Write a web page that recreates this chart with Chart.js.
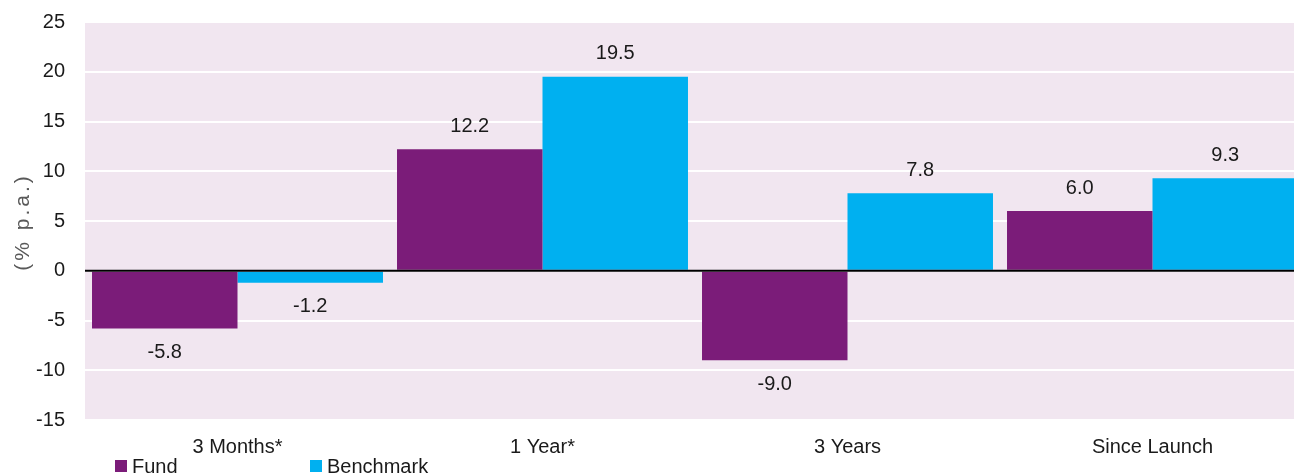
<!DOCTYPE html>
<html>
<head>
<meta charset="utf-8">
<script src="https://cdn.jsdelivr.net/npm/chart.js@4"></script>
<style>
  html, body { margin: 0; padding: 0; background: #fff; overflow: hidden; }
  #wrap { width: 1310px; height: 475px; }
</style>
</head>
<body>
<div id="wrap"><canvas id="perf-chart"></canvas></div>
<script>
const categories = ['3 Months*', '1 Year*', '3 Years', 'Since Launch'];
const fundValues = [-5.8, 12.2, -9.0, 6.0];
const benchmarkValues = [-1.2, 19.5, 7.8, 9.3];
const yTicks = [-15, -10, -5, 0, 5, 10, 15, 20, 25];
const yTitle = '(% p.a.)';

const FONT = 'Liberation Sans, Arial, Helvetica, sans-serif';
const purple = '#7b1c79';
const cyan = '#00b0f0';

// plot background + zero line + value labels + legend + axis title
const extras = {
    id: 'extras',
    beforeDraw(chart) {
        const { ctx, chartArea: a } = chart;
        ctx.save();
        ctx.fillStyle = '#f1e6f0';
        ctx.fillRect(a.left, a.top, a.right - a.left, a.bottom - a.top);
        ctx.restore();
    },
    afterDatasetsDraw(chart) {
        const { ctx, chartArea: a } = chart;
        const y0 = chart.scales.y.getPixelForValue(0);
        ctx.save();
        ctx.strokeStyle = '#000';
        ctx.lineWidth = 2;
        ctx.beginPath();
        ctx.moveTo(a.left, y0);
        ctx.lineTo(a.right, y0);
        ctx.stroke();

        ctx.font = '20px ' + FONT;
        ctx.fillStyle = '#1a1a1a';
        ctx.textAlign = 'center';
        ctx.textBaseline = 'middle';
        chart.data.datasets.forEach((ds, i) => {
            chart.getDatasetMeta(i).data.forEach((bar, j) => {
                const v = ds.data[j];
                const y = v >= 0 ? bar.y - 23 : bar.y + 24;
                ctx.fillText(v.toFixed(1), bar.x, y);
            });
        });

        // legend
        const items = [
            { x: 115, label: chart.data.datasets[0].label, color: purple },
            { x: 310, label: chart.data.datasets[1].label, color: cyan }
        ];
        ctx.textAlign = 'left';
        items.forEach(it => {
            ctx.fillStyle = it.color;
            ctx.fillRect(it.x, 460, 12, 12);
            ctx.fillStyle = '#1a1a1a';
            ctx.fillText(it.label, it.x + 17, 467);
        });

        // y axis title, rotated
        ctx.translate(23, 222);
        ctx.rotate(-Math.PI / 2);
        ctx.textAlign = 'center';
        ctx.font = '21px ' + FONT;
        ctx.letterSpacing = '3px';
        ctx.fillStyle = '#595959';
        ctx.fillText(yTitle, 0, 0);
        ctx.restore();
    }
};

new Chart(document.getElementById('perf-chart'), {
    type: 'bar',
    data: {
        labels: categories,
        datasets: [
            { label: 'Fund', data: fundValues, backgroundColor: purple },
            { label: 'Benchmark', data: benchmarkValues, backgroundColor: cyan }
        ]
    },
    options: {
        responsive: true,
        maintainAspectRatio: false,
        animation: false,
        layout: { padding: { top: 22, right: 5, left: 0, bottom: 0 } },
        datasets: {
            bar: { categoryPercentage: 0.954, barPercentage: 1 }
        },
        plugins: {
            legend: { display: false },
            tooltip: { enabled: false }
        },
        scales: {
            x: {
                grid: { display: false, drawTicks: false },
                border: { display: false },
                ticks: {
                    color: '#1a1a1a',
                    font: { family: FONT, size: 20 },
                    padding: 15,
                    maxRotation: 0
                },
                afterFit(scale) {
                    scale.height = 55;
                    scale.paddingLeft = 0;
                    scale.paddingRight = 0;
                }
            },
            y: {
                min: -15,
                max: 25,
                afterBuildTicks(scale) {
                    scale.ticks = yTicks.map(v => ({ value: v }));
                },
                grid: { color: '#ffffff', lineWidth: 2, drawTicks: false },
                border: { display: false },
                ticks: {
                    color: '#1a1a1a',
                    font: { family: FONT, size: 20 },
                    padding: 20
                },
                afterFit(scale) {
                    scale.width = 85;
                    scale.paddingTop = 0;
                    scale.paddingBottom = 0;
                }
            }
        }
    },
    plugins: [extras]
});
</script>
</body>
</html>
